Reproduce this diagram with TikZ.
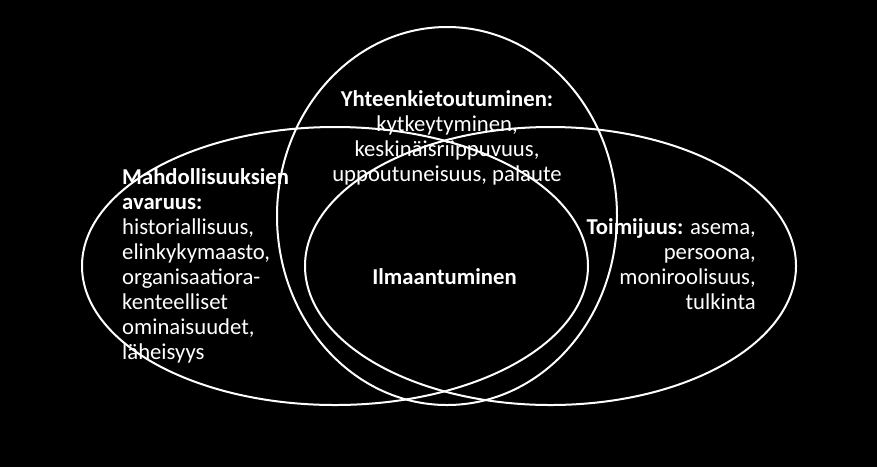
\documentclass[tikz,border=0pt]{standalone}
\usepackage{fontspec}
\setmainfont{Carlito}
\usetikzlibrary{shapes}
\usetikzlibrary{positioning}
\tikzset{setring/.style={ellipse,draw=white,line width=2pt,inner sep=0pt},
label/.style={text=white,inner sep=0pt,font=\fontsize{22.7}{25}\selectfont},
>={stealth}}

\begin{document}
\begin{tikzpicture}[x=1pt,y=-1pt]
  \fill [black] (0,0) rectangle (877,467);
  \useasboundingbox (0,0) rectangle (877,467);

  % the three sets
  \node (links) [setring,minimum width=506pt,minimum height=278pt] at (335,266) {};
  \node (rechts) [setring,minimum width=491pt,minimum height=278pt] at (550.5,266) {};
  \node (boven) [setring,minimum width=340pt,minimum height=378pt] at (447,216) {};

  % texts, placed by the baseline of their last line
  \node (boventekst) [label,align=center,anchor=base] at (447,181)
    {\textbf{Yhteenkietoutuminen:}\\kytkeytyminen,\\keskinäisriippuvuus,\\uppoutuneisuus, palaute};
  \node (linkstekst) [label,align=left,anchor=base west] at (122,359)
    {\textbf{Mahdollisuuksien}\\\textbf{avaruus:}\\historiallisuus,\\elinkykymaasto,\\organisaatiora-\\kenteelliset\\ominaisuudet,\\läheisyys};
  \node (rechtstekst) [label,align=right,anchor=base east] at (756,309)
    {\textbf{Toimijuus:} asema,\\persoona,\\moniroolisuus,\\tulkinta};
  \node (midden) [label,anchor=base] at (444.5,284) {\textbf{Ilmaantuminen}};
\end{tikzpicture}
\end{document}
